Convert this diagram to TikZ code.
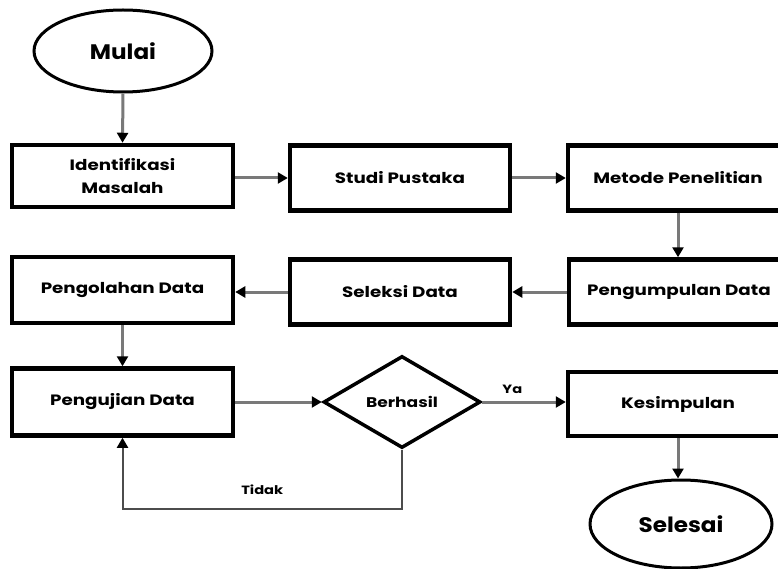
\documentclass[tikz,border=0pt]{standalone}
\usepackage{fontspec}
\setmainfont{Poppins}
\newfontfamily\widefont{Poppins}[FakeStretch=1.22]
\newfontfamily\midfont{Poppins}[FakeStretch=1.1]
\usetikzlibrary{arrows.meta,shapes.geometric}
\begin{document}
\begin{tikzpicture}[x=1pt,y=-1pt,
  box/.style={draw=black,line width=4.5pt,rectangle,minimum width=220pt,minimum height=65pt,inner sep=0pt,font=\widefont\fontsize{15}{23}\selectfont\bfseries,align=center},
  term/.style={draw=black,line width=3pt,ellipse,inner sep=0pt,font=\midfont\fontsize{21}{24}\selectfont\bfseries},
  dec/.style={draw=black,line width=3.5pt,diamond,aspect=1.7,inner sep=0pt,minimum width=157pt,minimum height=92pt,font=\widefont\fontsize{14}{17}\selectfont\bfseries},
  conn/.style={draw=gray!95!black,line width=3pt,-{Triangle[length=10pt,width=11pt,color=black]}},
  back/.style={draw=black!70,line width=2pt,-{Triangle[length=10pt,width=11pt,color=black]}},
  lbl/.style={font=\widefont\fontsize{12}{14}\selectfont\bfseries}]
\useasboundingbox[fill=white] (0,0) rectangle (778,569);
\node[term,minimum width=178pt,minimum height=82pt] (mulai) at (123,51) {Mulai};
\node[box,minimum width=221pt,minimum height=62pt] (ident) at (122.5,176) {Identifikasi\\Masalah};
\node[box] (studi) at (400,178) {Studi Pustaka};
\node[box] (metode) at (678,178) {Metode Penelitian};
\node[box] (kumpul) at (679,292) {Pengumpulan Data};
\node[box] (seleksi) at (400,292) {Seleksi Data};
\node[box,minimum width=221pt,minimum height=66pt] (olah) at (122.5,290) {Pengolahan Data};
\node[box,minimum width=221pt,minimum height=67pt] (uji) at (122.5,402) {Pengujian Data};
\node[dec] (hasil) at (402,402) {Berhasil};
\node[box,minimum height=64pt] (simpul) at (678,404) {Kesimpulan};
\node[term,minimum width=182pt,minimum height=88pt] (selesai) at (681,524) {Selesai};
\coordinate (bend) at (402,509);
\draw[conn] (mulai.south) -- (ident.north);
\draw[conn] (ident.east |- studi.west) -- (studi.west);
\draw[conn] (studi.east) -- (metode.west);
\draw[conn] (metode.south) -- (metode.south |- kumpul.north);
\draw[conn] (kumpul.west) -- (seleksi.east);
\draw[conn] (seleksi.west) -- (seleksi.west -| olah.east);
\draw[conn] (olah.south) -- (uji.north);
\draw[conn] (uji.east) -- (hasil.west);
\draw[conn] (hasil.east) -- node[lbl,above=4pt,pos=0.36] (ya) {Ya} (hasil.east -| simpul.west);
\draw[conn] (simpul.south) -- (simpul.south |- selesai.north);
\draw[back] (hasil.south) -- (bend) -| node[lbl,pos=0.25,above=10pt] (tidak) {Tidak} (uji.south);
\end{tikzpicture}
\end{document}
